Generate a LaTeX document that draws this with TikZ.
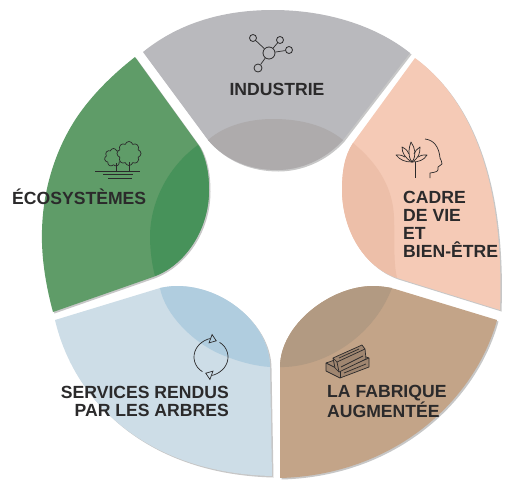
\documentclass[tikz,border=0pt]{standalone}
\usepackage{fontspec}
\setmainfont{Liberation Sans}
\usepackage{xcolor}
\usetikzlibrary{arrows.meta,shapes.symbols}
\definecolor{greyLight}{HTML}{B9B9BD}
\definecolor{greyDark}{HTML}{AEABAC}
\definecolor{peachLight}{HTML}{F5CAB6}
\definecolor{peachDark}{HTML}{EDBFA9}
\definecolor{greenLight}{HTML}{5F9C68}
\definecolor{greenDark}{HTML}{47925A}
\definecolor{blueLight}{HTML}{CDDDE7}
\definecolor{blueDark}{HTML}{B0CDDF}
\definecolor{brownLight}{HTML}{C3A488}
\definecolor{brownDark}{HTML}{B29A82}
\definecolor{inkText}{HTML}{2B2A2B}
\tikzset{
  petal/.style={fill=#1,draw=none},
  under/.style={fill=black!22,draw=none},
  caption/.style={font=\fontsize{17.6}{18}\selectfont\bfseries,text=inkText,inner sep=0pt,align=#1},
  caption/.default=left,
  icon/.style={draw=inkText,line width=0.7pt,line join=round},
  hub/.style={circle,draw=inkText,line width=0.8pt,inner sep=0pt,minimum size=#1},
  wood/.style={icon,fill=brownLight!82!black}
}
\newcommand{\greypath}{(143,52) .. controls (180,22) and (225,10) .. (273,10) .. controls (325,10) and (375,25) .. (410,53) -- (343,140) .. controls (325,160) and (300,170) .. (277,170) .. controls (250,170) and (225,160) .. (208,140) -- cycle}
\newcommand{\peachpath}{(415,58) .. controls (465,95) and (505,170) .. (500,310) -- (397,278) .. controls (360,265) and (342,225) .. (342,190) .. controls (342,170) and (345,155) .. (353,143) -- cycle}
\newcommand{\greenpath}{(135,57) -- (200,147) .. controls (207,160) and (209,175) .. (209,190) .. controls (209,230) and (185,265) .. (153,277) -- (53,312) .. controls (47,290) and (41,260) .. (42,230) .. controls (43,190) and (55,150) .. (77,117) .. controls (92,95) and (112,75) .. (135,57) -- cycle}
\newcommand{\bluepath}{(55,320) .. controls (75,405) and (150,473) .. (272,476) -- (270,367) .. controls (270,325) and (225,286) .. (177,286) .. controls (170,286) and (165,287) .. (160,288) -- cycle}
\newcommand{\brownpath}{(497,320) .. controls (475,400) and (395,475) .. (280,478) -- (280,367) .. controls (280,325) and (330,286) .. (373,286) .. controls (380,286) and (388,287) .. (395,289) -- cycle}
\begin{document}
\begin{tikzpicture}[x=1pt,y=-1pt]
  \useasboundingbox (0,0) rectangle (506,480);
  \begin{scope}[shift={(1.5,1.5)}]
    \fill[under] \greypath;
    \fill[under] \peachpath;
    \fill[under] \greenpath;
    \fill[under] \bluepath;
    \fill[under] \brownpath;
  \end{scope}
  \fill[petal=greyLight] \greypath;
  \fill[petal=greyDark] (208,140) .. controls (225,125) and (250,119) .. (273,119) .. controls (300,119) and (325,125) .. (343,140) .. controls (325,160) and (300,170) .. (277,170) .. controls (250,170) and (225,160) .. (208,140) -- cycle;
  \fill[petal=peachLight] \peachpath;
  \fill[petal=peachDark] (353,143) .. controls (380,165) and (393,190) .. (394,217) .. controls (395,240) and (393,260) .. (397,278) .. controls (360,265) and (342,225) .. (342,190) .. controls (342,170) and (345,155) .. (353,143) -- cycle;
  \fill[petal=greenLight] \greenpath;
  \fill[petal=greenDark] (198,145) .. controls (170,165) and (150,200) .. (150,237) .. controls (150,250) and (152,265) .. (155,276) .. controls (185,265) and (209,230) .. (209,190) .. controls (209,175) and (207,160) .. (198,145) -- cycle;
  \fill[petal=blueLight] \bluepath;
  \fill[petal=blueDark] (160,288) .. controls (165,315) and (195,345) .. (225,356) .. controls (240,362) and (255,366) .. (270,367) .. controls (270,325) and (225,286) .. (177,286) .. controls (170,286) and (165,287) .. (160,288) -- cycle;
  \fill[petal=brownLight] \brownpath;
  \fill[petal=brownDark] (280,367) .. controls (320,368) and (372,340) .. (392,288) .. controls (386,287) and (380,286) .. (373,286) .. controls (330,286) and (280,325) .. (280,367) -- cycle;

  \node[caption=center] (industrie) at (277,89) {INDUSTRIE};
  \node[caption,anchor=west] (cadre) at (403,224.5) {CADRE\\DE VIE\\ET\\BIEN-ÊTRE};
  \node[caption,anchor=west] (ecosystemes) at (12,197) {ÉCOSYSTÈMES};
  \node[caption=right,anchor=east] (services) at (229,401) {SERVICES RENDUS\\PAR LES ARBRES};
  \node[caption,anchor=west] (fabrique) at (327,401) {LA FABRIQUE\\AUGMENTÉE};

  \node[hub=12pt] (core) at (269,53) {};
  \node[hub=7pt] (sat_a) at (253,38) {};
  \node[hub=7pt] (sat_b) at (280,40) {};
  \node[hub=7pt] (sat_c) at (289,50) {};
  \node[hub=8pt] (sat_d) at (258,68) {};
  \draw[icon] (core) -- (sat_a);
  \draw[icon] (core) -- (sat_b);
  \draw[icon] (core) -- (sat_c);
  \draw[icon] (core) -- (sat_d);

  \draw[icon] (425,139) .. controls (434,140) and (439,147) .. (440,158) .. controls (440,160) and (443,162) .. (442,164) -- (438,167) .. controls (439,172) and (436,172) .. (430,173) -- (430,178);
  \draw[icon] (415,162) -- (415,178);
  \draw[icon] (412,162) .. controls (407,155) and (409,148) .. (411,142) .. controls (415,148) and (417,155) .. (412,162) -- cycle;
  \draw[icon] (412,162) .. controls (405,158) and (402,153) .. (402,147) .. controls (406,149) and (408,151) .. (409,154);
  \draw[icon] (412,162) .. controls (419,158) and (420,153) .. (420,147) .. controls (417,149) and (415,151) .. (414,154);
  \draw[icon] (412,162) .. controls (405,162) and (400,160) .. (396,155) .. controls (400,155) and (403,155) .. (405,157);
  \draw[icon] (412,162) .. controls (419,162) and (424,160) .. (427,155) .. controls (423,155) and (420,155) .. (418,157);

  \node[cloud,cloud puffs=7,cloud puff arc=150,aspect=1,icon,inner sep=0pt,minimum size=18pt] (crown_small) at (113.5,157.5) {};
  \node[cloud,cloud puffs=8,cloud puff arc=150,aspect=1,icon,fill=greenLight,inner sep=0pt,minimum size=24pt] (crown_big) at (129,153.5) {};
  \draw[icon] (116,171) -- (116,163);
  \draw[icon] (129,171) -- (129,162);
  \draw[icon] (95,171) -- (140,171);
  \draw[icon] (103,174.5) -- (133,174.5);
  \draw[icon] (108,178) -- (132,178);

  \draw[icon,-{Triangle[open,length=7pt,width=10pt]}] (202.5,371.7) arc[start angle=120,end angle=290,radius=17];
  \draw[icon,-{Triangle[open,length=7pt,width=10pt]}] (219.5,342.3) arc[start angle=300,end angle=470,radius=17];

  \draw[wood] (326,363) -- (326,371) -- (340,378) -- (369,367) -- (369,358) -- (355,353) -- cycle;
  \draw[icon] (326,363) -- (340,370) -- (369,358);
  \draw[icon] (340,370) -- (340,378);
  \draw[icon] (344,373) -- (366,364);
  \draw[wood] (333,358) -- (335,368) -- (339,372) -- (366,359) -- (365,349) -- (362,345) -- cycle;
  \draw[icon] (333,358) -- (337,362) -- (365,349);
  \draw[icon] (337,362) -- (339,372);
  \draw[icon] (341,367) -- (363,356);
  \draw[icon] (339,358) -- (359,349);
\end{tikzpicture}
\end{document}
